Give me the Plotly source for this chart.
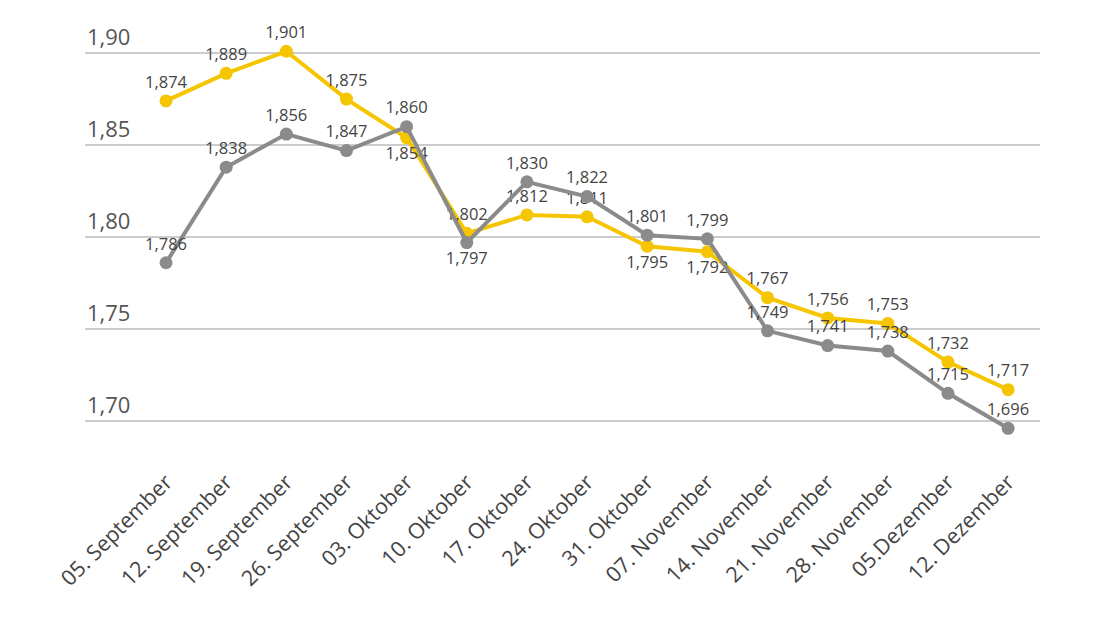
import plotly.graph_objects as go

dates = ["05. September", "12. September", "19. September", "26. September",
         "03. Oktober", "10. Oktober", "17. Oktober", "24. Oktober", "31. Oktober",
         "07. November", "14. November", "21. November", "28. November",
         "05.Dezember", "12. Dezember"]

yellow_vals = [1.874, 1.889, 1.901, 1.875, 1.854, 1.802, 1.812, 1.811, 1.795,
               1.792, 1.767, 1.756, 1.753, 1.732, 1.717]
grey_vals = [1.786, 1.838, 1.856, 1.847, 1.860, 1.797, 1.830, 1.822, 1.801,
             1.799, 1.749, 1.741, 1.738, 1.715, 1.696]

yellow_pos = ["top center"] * 4 + ["bottom center", "top center", "top center",
              "top center", "bottom center", "bottom center"] + ["top center"] * 5
grey_pos = ["top center"] * 5 + ["bottom center"] + ["top center"] * 9

ytick_vals = [1.70, 1.75, 1.80, 1.85, 1.90]
ytick_text = ["1,70", "1,75", "1,80", "1,85", "1,90"]

YELLOW = "#F5C600"
GREY = "#8C8B8B"

fig = go.Figure()
fig.add_trace(go.Scatter(
    x=dates, y=yellow_vals, mode="lines+markers+text",
    line=dict(color=YELLOW, width=4), marker=dict(color=YELLOW, size=13),
    text=[f"{v:.3f}".replace(".", ",") for v in yellow_vals],
    textposition=yellow_pos, textfont=dict(size=16.5, color="#444444"),
    cliponaxis=False, showlegend=False))
fig.add_trace(go.Scatter(
    x=dates, y=grey_vals, mode="lines+markers+text",
    line=dict(color=GREY, width=4), marker=dict(color=GREY, size=13),
    text=[f"{v:.3f}".replace(".", ",") for v in grey_vals],
    textposition=grey_pos, textfont=dict(size=16.5, color="#444444"),
    cliponaxis=False, showlegend=False))

for v, t in zip(ytick_vals, ytick_text):
    fig.add_annotation(x=0, xref="paper", y=v, yref="y", text=t, showarrow=False,
                       xanchor="left", yanchor="bottom", yshift=0, xshift=0,
                       font=dict(size=22, color="#555555"))

fig.update_layout(
    width=1100, height=618,
    margin=dict(l=85, r=60, t=20, b=168),
    paper_bgcolor="white", plot_bgcolor="white",
    font=dict(family="Open Sans, sans-serif", color="#444444"),
    xaxis=dict(type="category", range=[-1.347, 14.53], showgrid=False,
               showline=False, zeroline=False, ticks="outside", ticklen=10,
               tickcolor="rgba(0,0,0,0)",
               tickangle=-45, tickfont=dict(size=21.5, color="#444444")),
    yaxis=dict(range=[1.6842, 1.918], tickvals=ytick_vals, showticklabels=False,
               showgrid=True, gridcolor="#CCCCCC", gridwidth=1.5,
               zeroline=False, showline=False),
)

fig.write_html("out.html")
